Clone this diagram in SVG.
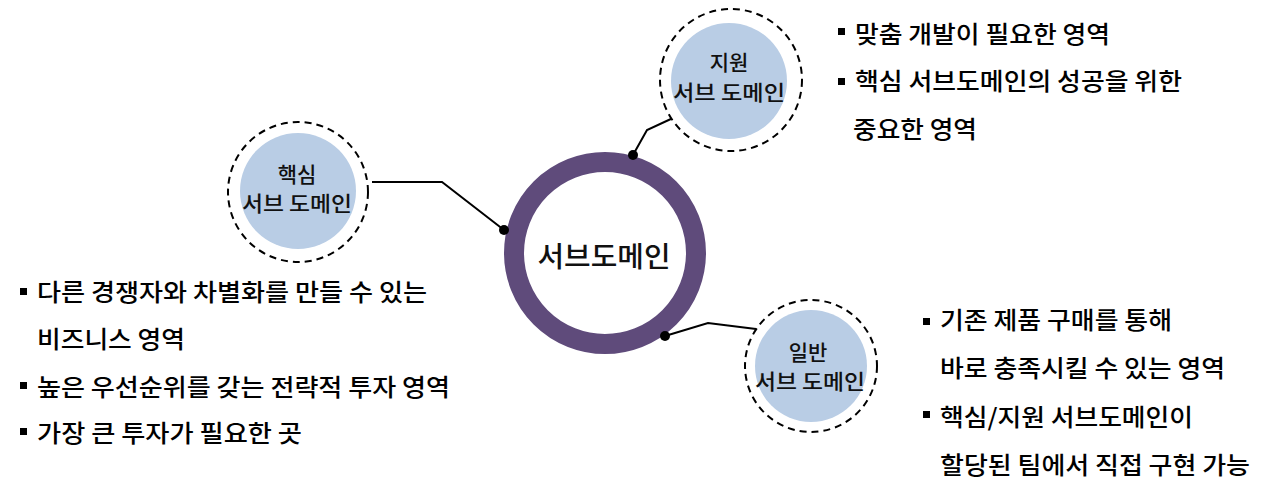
<svg xmlns="http://www.w3.org/2000/svg" width="1284" height="502" viewBox="0 0 1284 502">
<style>
  text { font-family: "Noto Sans CJK KR Medium", "Noto Sans CJK KR", "Noto Sans", sans-serif; font-weight: 500; fill: #000; }
  .lbl { font-size: 21px; text-anchor: middle; fill: #111; }
  .main { font-size: 28px; text-anchor: middle; fill: #111; }
  .item { font-size: 24px; }
  .halo { fill: #fff; stroke: #000; stroke-width: 2; stroke-dasharray: 7 5; }
  .core { fill: #b9cde5; }
  .conn { fill: none; stroke: #000; stroke-width: 2; }
  .dot { fill: #000; }
  .bul { fill: #000; }
</style>
<rect width="1284" height="502" fill="#fff"/>
<g id="connectors">
  <polyline class="conn" points="372,182 442,182 504,230"/>
  <polyline class="conn" points="633,155 647,130 673,118"/>
  <polyline class="conn" points="665,336 708,323 756,329"/>
</g>
<g id="main">
  <circle cx="605" cy="253" r="91" fill="#fff" stroke="#5f4b7b" stroke-width="20"/>
  <text class="main" x="604" y="267" textLength="133" lengthAdjust="spacingAndGlyphs">서브도메인</text>
</g>
<g id="core-node">
  <circle class="halo" cx="298" cy="192" r="70"/>
  <circle class="core" cx="298" cy="191" r="58"/>
  <text class="lbl"><tspan x="297" y="182">핵심</tspan><tspan x="297" y="211" textLength="110" lengthAdjust="spacingAndGlyphs">서브 도메인</tspan></text>
</g>
<g id="support-node">
  <circle class="halo" cx="731" cy="80" r="71"/>
  <circle class="core" cx="729" cy="81" r="58"/>
  <text class="lbl"><tspan x="729" y="70">지원</tspan><tspan x="729" y="100" textLength="112" lengthAdjust="spacingAndGlyphs">서브 도메인</tspan></text>
</g>
<g id="generic-node">
  <circle class="halo" cx="811" cy="366" r="66"/>
  <circle class="core" cx="811" cy="366" r="56"/>
  <text class="lbl"><tspan x="808" y="360">일반</tspan><tspan x="810" y="389" textLength="110" lengthAdjust="spacingAndGlyphs">서브 도메인</tspan></text>
</g>
<g id="dots">
  <circle class="dot" cx="504" cy="230" r="5"/>
  <circle class="dot" cx="633" cy="155" r="5"/>
  <circle class="dot" cx="665" cy="336" r="5"/>
</g>
<g id="support-text">
  <rect class="bul" x="838" y="28" width="7" height="7"/>
  <text class="item" x="855" y="43" textLength="255" lengthAdjust="spacingAndGlyphs">맞춤 개발이 필요한 영역</text>
  <rect class="bul" x="838" y="78" width="7" height="7"/>
  <text class="item" x="855" y="90" textLength="327" lengthAdjust="spacingAndGlyphs">핵심 서브도메인의 성공을 위한</text>
  <text class="item" x="853" y="138" textLength="124" lengthAdjust="spacingAndGlyphs">중요한 영역</text>
</g>
<g id="core-text">
  <rect class="bul" x="20" y="288" width="7" height="7"/>
  <text class="item" x="37" y="301" textLength="390" lengthAdjust="spacingAndGlyphs">다른 경쟁자와 차별화를 만들 수 있는</text>
  <text class="item" x="37" y="348" textLength="148" lengthAdjust="spacingAndGlyphs">비즈니스 영역</text>
  <rect class="bul" x="20" y="382" width="7" height="7"/>
  <text class="item" x="37" y="396" textLength="413" lengthAdjust="spacingAndGlyphs">높은 우선순위를 갖는 전략적 투자 영역</text>
  <rect class="bul" x="20" y="428" width="7" height="7"/>
  <text class="item" x="37" y="442" textLength="265" lengthAdjust="spacingAndGlyphs">가장 큰 투자가 필요한 곳</text>
</g>
<g id="generic-text">
  <rect class="bul" x="923" y="318" width="7" height="7"/>
  <text class="item" x="940" y="329" textLength="232" lengthAdjust="spacingAndGlyphs">기존 제품 구매를 통해</text>
  <text class="item" x="940" y="377" textLength="285" lengthAdjust="spacingAndGlyphs">바로 충족시킬 수 있는 영역</text>
  <rect class="bul" x="923" y="411" width="7" height="7"/>
  <text class="item" x="940" y="426" textLength="253" lengthAdjust="spacingAndGlyphs">핵심/지원 서브도메인이</text>
  <text class="item" x="940" y="474" textLength="310" lengthAdjust="spacingAndGlyphs">할당된 팀에서 직접 구현 가능</text>
</g>
</svg>
